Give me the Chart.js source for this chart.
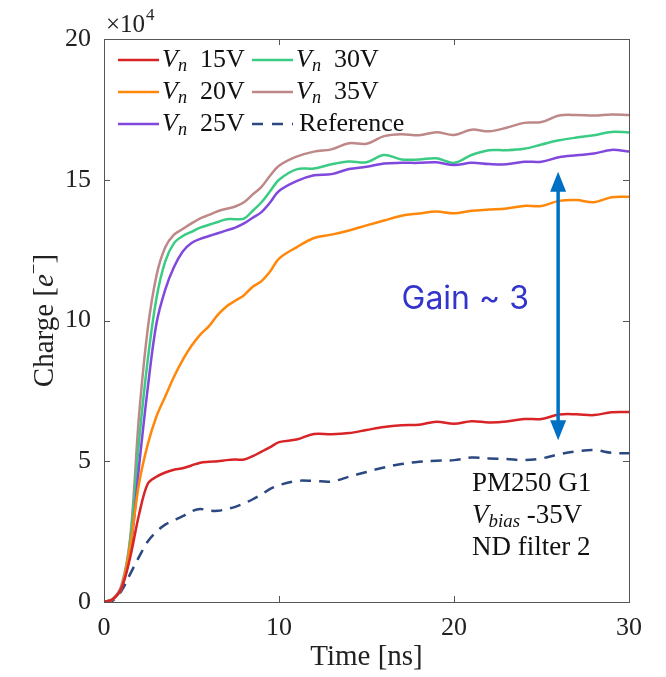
<!DOCTYPE html>
<html>
<head>
<meta charset="utf-8">
<script src="https://cdn.jsdelivr.net/npm/chart.js@4.4.0/dist/chart.umd.min.js"></script>
<style>
  html, body { margin: 0; background: #fff; }
</style>
</head>
<body>
<canvas id="chargeChart" width="666" height="677"></canvas>
<script>
// time axis (ns) and charge values (x 10^4 e-)
const timeNs = [0, 0.5, 1, 1.5, 2, 2.5, 3, 3.5, 4, 4.5, 5, 5.5, 6, 6.5, 7, 7.5, 8, 8.5, 9, 9.5, 10,
  11, 12, 13, 14, 15, 16, 17, 18, 19, 20, 21, 22, 23, 24, 25, 26, 27, 28, 29, 30];

const vn15 = [0, 0.1, 0.5, 1.6, 3.1, 4.2, 4.45, 4.6, 4.7, 4.75, 4.85, 4.95, 4.98, 5.0, 5.04, 5.06, 5.06, 5.18, 5.34, 5.5, 5.68,
  5.77, 5.97, 5.96, 6.0, 6.11, 6.22, 6.28, 6.3, 6.4, 6.33, 6.42, 6.38, 6.41, 6.5, 6.5, 6.66, 6.67, 6.64, 6.74, 6.75];
const vn20 = [0, 0.1, 0.5, 2.0, 4.2, 5.6, 6.6, 7.3, 8.0, 8.6, 9.1, 9.5, 9.8, 10.2, 10.5, 10.7, 10.9, 11.2, 11.4, 11.75, 12.2,
  12.6, 12.93, 13.05, 13.2, 13.38, 13.55, 13.72, 13.8, 13.87, 13.81, 13.9, 13.94, 13.98, 14.07, 14.07, 14.25, 14.28, 14.2, 14.38, 14.4];
const vn25 = [0, 0.1, 0.5, 1.8, 4.8, 7.6, 9.9, 11.1, 11.9, 12.45, 12.75, 12.9, 13.0, 13.1, 13.2, 13.3, 13.45, 13.65, 13.85, 14.2, 14.6,
  14.95, 15.16, 15.2, 15.38, 15.46, 15.58, 15.6, 15.6, 15.62, 15.52, 15.6, 15.56, 15.55, 15.64, 15.64, 15.8, 15.87, 15.93, 16.06, 16.0];
const vn30 = [0, 0.1, 0.5, 2.2, 5.7, 8.6, 10.8, 12.1, 12.75, 13.0, 13.15, 13.3, 13.4, 13.5, 13.6, 13.6, 13.62, 13.9, 14.2, 14.6, 15.0,
  15.37, 15.4, 15.55, 15.65, 15.62, 15.88, 15.72, 15.72, 15.76, 15.6, 15.88, 16.05, 16.05, 16.1, 16.25, 16.4, 16.5, 16.58, 16.7, 16.68];
const vn35 = [0, 0.1, 0.6, 2.3, 6.6, 9.7, 11.6, 12.6, 13.05, 13.25, 13.45, 13.63, 13.75, 13.88, 13.97, 14.05, 14.2, 14.48, 14.75, 15.15, 15.5,
  15.82, 16.0, 16.08, 16.3, 16.28, 16.55, 16.62, 16.58, 16.69, 16.59, 16.78, 16.72, 16.85, 17.02, 17.05, 17.28, 17.3, 17.28, 17.32, 17.3];
const reference = [0, 0.05, 0.4, 1.0, 1.6, 2.15, 2.5, 2.75, 2.9, 3.05, 3.22, 3.3, 3.25, 3.24, 3.3, 3.38, 3.5, 3.65, 3.82, 4.02, 4.15,
  4.3, 4.3, 4.28, 4.45, 4.62, 4.78, 4.9, 4.98, 5.02, 5.04, 5.13, 5.1, 5.08, 5.04, 5.1, 5.25, 5.35, 5.4, 5.3, 5.28];

const xTicks = [0, 10, 20, 30];
const yTicks = [0, 5, 10, 15, 20];

const SERIF = '"Liberation Serif", "DejaVu Serif", serif';

const toPoints = ys => ys.map((y, i) => ({ x: timeNs[i], y: y }));

const series = [
  { label: '15V', data: vn15, color: 'rgb(216, 36, 38)' },
  { label: '20V', data: vn20, color: 'rgb(255, 136, 10)' },
  { label: '25V', data: vn25, color: 'rgb(128, 72, 220)' },
  { label: '30V', data: vn30, color: 'rgb(58, 204, 132)' },
  { label: '35V', data: vn35, color: 'rgb(190, 136, 136)' },
  { label: 'Reference', data: reference, color: 'rgb(44, 72, 128)', dash: [11, 8] }
];

// draws text runs with italic / subscript parts
function drawRuns(ctx, runs, x, y, size) {
  let cx = x;
  runs.forEach(r => {
    const s = r.sub ? size * 0.7 : size;
    ctx.font = (r.italic ? 'italic ' : '') + s + 'px ' + SERIF;
    ctx.fillText(r.t, cx, r.sub ? y + size * 0.22 : y);
    cx += ctx.measureText(r.t).width;
  });
  return cx;
}

const figurePlugin = {
  id: 'figure',
  afterDatasetsDraw(chart) {
    const { ctx, chartArea: a, scales } = chart;
    const xs = scales.x, ys = scales.y;
    ctx.save();

    // box and inward ticks
    ctx.strokeStyle = '#555';
    ctx.lineWidth = 1;
    ctx.strokeRect(a.left + 0.5, a.top + 0.5, a.right - a.left, a.bottom - a.top);
    ctx.beginPath();
    xTicks.forEach(v => {
      const px = Math.round(xs.getPixelForValue(v)) + 0.5;
      ctx.moveTo(px, a.bottom); ctx.lineTo(px, a.bottom - 6);
      ctx.moveTo(px, a.top); ctx.lineTo(px, a.top + 6);
    });
    yTicks.forEach(v => {
      const py = Math.round(ys.getPixelForValue(v)) + 0.5;
      ctx.moveTo(a.left, py); ctx.lineTo(a.left + 6, py);
      ctx.moveTo(a.right, py); ctx.lineTo(a.right - 6, py);
    });
    ctx.stroke();

    ctx.fillStyle = '#222';
    ctx.textBaseline = 'middle';

    // exponent label
    ctx.textAlign = 'left';
    ctx.font = '25px ' + SERIF;
    ctx.fillText('\u00d710', a.left + 2, 25);
    const w = ctx.measureText('\u00d710').width;
    ctx.font = '17px ' + SERIF;
    ctx.fillText('4', a.left + 2 + w + 1, 16);

    // axis titles
    ctx.font = '29px ' + SERIF;
    ctx.textAlign = 'center';
    ctx.fillText('Time [ns]', (a.left + a.right) / 2, 657);
    ctx.save();
    ctx.translate(45, (a.top + a.bottom) / 2);
    ctx.rotate(-Math.PI / 2);
    ctx.textAlign = 'left';
    const t1 = 'Charge [';
    ctx.font = '29px ' + SERIF;
    const w1 = ctx.measureText(t1).width;
    ctx.font = 'italic 29px ' + SERIF;
    const w2 = ctx.measureText('e').width;
    ctx.font = '19px ' + SERIF;
    const w3 = ctx.measureText('\u2212').width;
    ctx.font = '29px ' + SERIF;
    const w4 = ctx.measureText(']').width;
    let sx = -(w1 + w2 + w3 + w4) / 2;
    ctx.fillText(t1, sx, 0); sx += w1;
    ctx.font = 'italic 29px ' + SERIF;
    ctx.fillText('e', sx, 0); sx += w2;
    ctx.font = '19px ' + SERIF;
    ctx.fillText('\u2212', sx, -10); sx += w3;
    ctx.font = '29px ' + SERIF;
    ctx.fillText(']', sx, 0);
    ctx.restore();

    // legend: two columns, three rows
    ctx.textAlign = 'left';
    const cols = [118, 252];
    const rows = [60, 92, 124];
    series.forEach((s, i) => {
      const col = Math.floor(i / 3), row = i % 3;
      const lx = cols[col], ly = rows[row];
      ctx.strokeStyle = s.color;
      ctx.lineWidth = 2.5;
      ctx.setLineDash(s.dash ? [11, 9] : []);
      ctx.beginPath();
      ctx.moveTo(lx, ly); ctx.lineTo(lx + 41, ly);
      ctx.stroke();
      ctx.setLineDash([]);
      ctx.fillStyle = '#111';
      if (s.dash) {
        drawRuns(ctx, [{ t: s.label }], lx + 47, ly, 26);
      } else {
        drawRuns(ctx, [{ t: 'V', italic: true }, { t: 'n', italic: true, sub: true }, { t: '  ' + s.label }], lx + 44, ly, 26);
      }
    });

    // gain arrow
    const ax = xs.getPixelForValue(25.95);
    const top = ys.getPixelForValue(15.28), bot = ys.getPixelForValue(5.75);
    ctx.strokeStyle = ctx.fillStyle = 'rgb(0, 112, 196)';
    ctx.lineWidth = 3.5;
    ctx.beginPath();
    ctx.moveTo(ax, top + 16); ctx.lineTo(ax, bot - 16);
    ctx.stroke();
    ctx.beginPath();
    ctx.moveTo(ax, top); ctx.lineTo(ax - 8, top + 20); ctx.lineTo(ax + 8, top + 20); ctx.closePath();
    ctx.moveTo(ax, bot); ctx.lineTo(ax - 8, bot - 20); ctx.lineTo(ax + 8, bot - 20); ctx.closePath();
    ctx.fill();

    ctx.fillStyle = 'rgb(52, 52, 204)';
    ctx.font = '32px Inter, "Noto Sans", sans-serif';
    ctx.fillText('Gain ~ 3', xs.getPixelForValue(17.0), ys.getPixelForValue(10.76));

    // measurement notes
    ctx.fillStyle = '#111';
    const nx = 472;
    drawRuns(ctx, [{ t: 'PM250 G1' }], nx, 484, 27);
    drawRuns(ctx, [{ t: 'V', italic: true }, { t: 'bias', italic: true, sub: true }, { t: ' -35V' }], nx, 516, 27);
    drawRuns(ctx, [{ t: 'ND filter 2' }], nx, 548, 27);

    ctx.restore();
  }
};

const ctx = document.getElementById('chargeChart').getContext('2d');

new Chart(ctx, {
  type: 'line',
  data: {
    datasets: series.map(s => ({
      label: s.label,
      data: toPoints(s.data),
      borderColor: s.color,
      backgroundColor: s.color,
      borderWidth: 2.5,
      borderDash: s.dash || [],
      pointRadius: 0,
      tension: 0.35,
      fill: false
    }))
  },
  options: {
    responsive: false,
    animation: false,
    layout: { padding: { top: 39, right: 37, left: 0, bottom: 0 } },
    plugins: {
      legend: { display: false },
      tooltip: { enabled: false }
    },
    scales: {
      x: {
        type: 'linear',
        min: 0,
        max: 30,
        afterBuildTicks: scale => { scale.ticks = xTicks.map(v => ({ value: v })); },
        afterFit: scale => { scale.height = 75; },
        grid: { display: false },
        border: { display: false },
        ticks: { color: '#222', padding: 3, font: { family: SERIF, size: 26 } }
      },
      y: {
        min: 0,
        max: 20,
        afterBuildTicks: scale => { scale.ticks = yTicks.map(v => ({ value: v })); },
        afterFit: scale => { scale.width = 104; },
        grid: { display: false },
        border: { display: false },
        ticks: { color: '#222', padding: 5, font: { family: SERIF, size: 26 } }
      }
    }
  },
  plugins: [figurePlugin]
});
</script>
</body>
</html>
